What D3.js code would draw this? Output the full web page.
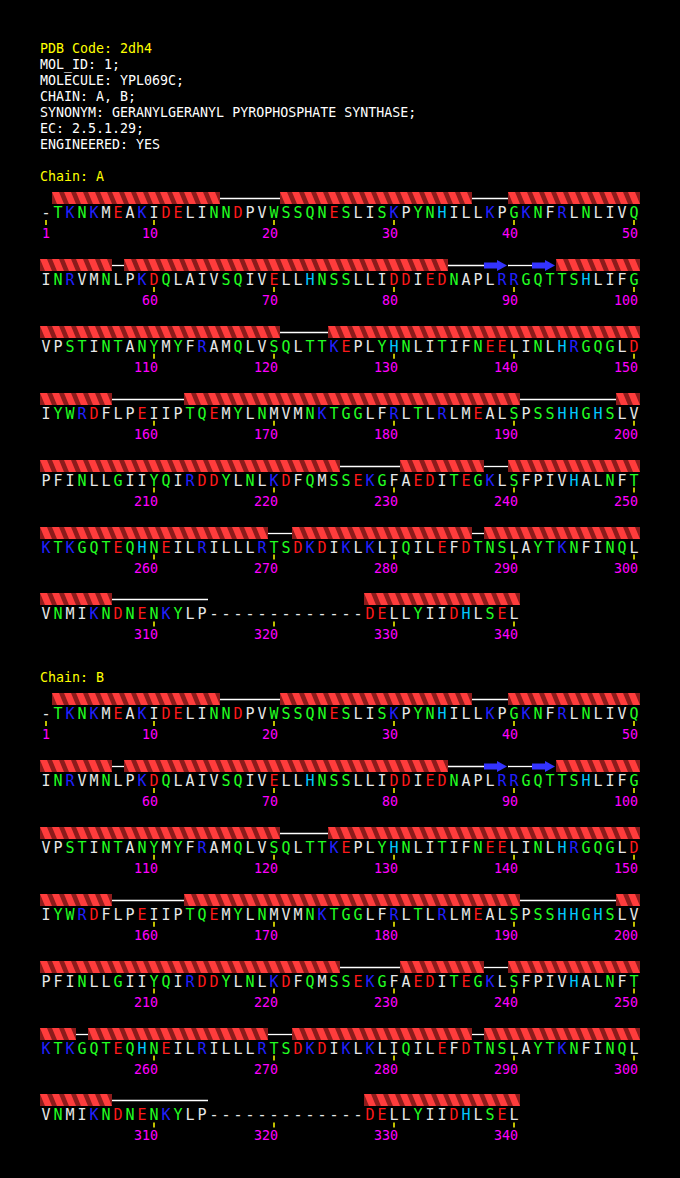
<!DOCTYPE html>
<html>
<head>
<meta charset="utf-8">
<script src="https://cdn.jsdelivr.net/npm/d3@7"></script>
<style>
  html, body { margin: 0; padding: 0; background: #000; }
  svg { display: block; }
</style>
</head>
<body>
<div id="chart"></div>
<script>
// ---------- DATA ----------
const headerTitle = "PDB Code: 2dh4";
const headerLines = [
  "MOL_ID: 1;",
  "MOLECULE: YPL069C;",
  "CHAIN: A, B;",
  "SYNONYM: GERANYLGERANYL PYROPHOSPHATE SYNTHASE;",
  "EC: 2.5.1.29;",
  "ENGINEERED: YES"
];
const chainNames = ["Chain: A", "Chain: B"];

const sequenceRows = [
  "-TKNKMEAKIDELINNDPVWSSQNESLISKPYNHILLKPGKNFRLNLIVQ",
  "INRVMNLPKDQLAIVSQIVELLHNSSLLIDDIEDNAPLRRGQTTSHLIFG",
  "VPSTINTANYMYFRAMQLVSQLTTKEPLYHNLITIFNEELINLHRGQGLD",
  "IYWRDFLPEIIPTQEMYLNMVMNKTGGLFRLTLRLMEALSPSSHHGHSLV",
  "PFINLLGIIYQIRDDYLNLKDFQMSSEKGFAEDITEGKLSFPIVHALNFT",
  "KTKGQTEQHNEILRILLLRTSDKDIKLKLIQILEFDTNSLAYTKNFINQL",
  "VNMIKNDNENKYLP-------------DELLYIIDHLSEL"
];

const chainAHelices = [[2,15],[21,36],[40,56],[58,84],[94,120],[125,156],[163,190],[199,225],[231,237],[240,269],[272,286],[288,306],[328,340]];
const chainAStrands = [[88,89],[92,93]];
const chainACoils   = [[16,20],[37,39],[57,57],[85,87],[90,91],[121,124],[157,162],[191,198],[226,230],[238,239],[270,271],[287,287],[307,314]];

const chainBHelices = [[2,15],[21,36],[40,56],[58,84],[94,120],[125,156],[163,190],[199,225],[231,237],[240,253],[255,269],[272,286],[288,306],[328,340]];
const chainBStrands = [[88,89],[92,93]];
const chainBCoils   = [[16,20],[37,39],[57,57],[85,87],[90,91],[121,124],[157,162],[191,198],[226,230],[238,239],[254,254],[270,271],[287,287],[307,314]];

const residueGroups = [
  { letters: "DE", color: "#ff1a1a" },
  { letters: "KR", color: "#2020ff" },
  { letters: "H", color: "#00c8ff" },
  { letters: "STNQGYWC", color: "#22ff22" },
  { letters: "AVLIMFP-", color: "#e8e8e8" }
];

// ---------- LAYOUT ----------
const W = 680, H = 1178;
const perRow = 50;
const rowStep = 66.9;
const chainOffset = 501;

const svg = d3.select("#chart").append("svg")
  .attr("width", W).attr("height", H)
  .style("background", "#000");
svg.append("rect").attr("width", W).attr("height", H).attr("fill", "#000");

const defs = svg.append("defs");

const x = d3.scaleBand().domain(d3.range(perRow)).range([40, 640]).paddingInner(0).paddingOuter(0);
const bw = x.bandwidth();
const rowY = d3.scaleLinear().domain([0, 1]).range([0, rowStep]);

const colorOf = ch => {
  const g = residueGroups.find(g => g.letters.includes(ch));
  return g ? g.color : "#e8e8e8";
};

const mono = "'DejaVu Sans Mono', 'Liberation Mono', monospace";

// header
const header = svg.append("g").attr("font-family", mono).attr("font-size", "13.3px");
header.append("text").attr("x", 40).attr("y", 53).attr("fill", "#ffff00").text(headerTitle);
header.selectAll("text.h").data(headerLines).join("text")
  .attr("class", "h").attr("x", 40).attr("y", (d, i) => 69 + i * 16)
  .attr("fill", "#ffffff").text(d => d);

const residues = sequenceRows.join("").split("");

let clipId = 0;
function segments(range) {
  const [s, e] = range;
  const out = [];
  const r0 = Math.floor((s - 1) / perRow), r1 = Math.floor((e - 1) / perRow);
  for (let r = r0; r <= r1; r++) {
    const a = Math.max(s, r * perRow + 1), b = Math.min(e, r * perRow + perRow);
    out.push({ row: r, a, b, x0: x((a - 1) % perRow), x1: x((b - 1) % perRow) + bw });
  }
  return out;
}

function drawChain(ci, helices, strands, coils) {
  const off = ci * chainOffset;
  const g = svg.append("g");
  g.append("text").attr("x", 40).attr("y", 181 + off)
    .attr("font-family", mono).attr("font-size", "13.3px")
    .attr("fill", "#ffff00").text(chainNames[ci]);

  const bandTop = r => Math.round(192 + off + rowY(r));

  // coils
  coils.flatMap(segments).forEach(sg => {
    const yc = bandTop(sg.row) + 6.5;
    g.append("line").attr("x1", sg.x0).attr("x2", sg.x1).attr("y1", yc).attr("y2", yc)
      .attr("stroke", "#ffffff").attr("stroke-width", 1.3);
  });

  // helices
  helices.flatMap(segments).forEach(sg => {
    const top = bandTop(sg.row), bot = top + 12;
    const id = "clip" + (clipId++);
    defs.append("clipPath").attr("id", id).append("rect")
      .attr("x", sg.x0).attr("y", top).attr("width", sg.x1 - sg.x0).attr("height", 12);
    const hg = g.append("g").attr("clip-path", `url(#${id})`);
    hg.append("rect").attr("x", sg.x0).attr("y", top).attr("width", sg.x1 - sg.x0).attr("height", 12)
      .attr("fill", "#8c1b1b");
    const cells = d3.range(sg.a, sg.b + 1).map(n => x((n - 1) % perRow));
    hg.selectAll("polygon").data(cells).join("polygon")
      .attr("points", xc => `${xc},${top} ${xc + 7},${top} ${xc + 12},${bot} ${xc + 5},${bot}`)
      .attr("fill", "#ff3c3c");
  });

  // strands
  strands.flatMap(segments).forEach(sg => {
    const yc = bandTop(sg.row) + 6.5;
    const x0 = sg.x0, x1 = sg.x1 - 1, hx = x1 - 10;
    g.append("polygon")
      .attr("points", `${x0},${yc - 3} ${hx},${yc - 3} ${hx},${yc - 5.5} ${x1},${yc} ${hx},${yc + 5.5} ${hx},${yc + 3} ${x0},${yc + 3}`)
      .attr("fill", "#3434ff");
  });

  // letters
  g.selectAll("text.res").data(residues.map((c, i) => ({ c, n: i + 1 }))).join("text")
    .attr("class", "res")
    .attr("x", d => x((d.n - 1) % perRow) + bw / 2)
    .attr("y", d => 218 + off + rowY(Math.floor((d.n - 1) / perRow)))
    .attr("text-anchor", "middle")
    .attr("font-family", mono).attr("font-size", "15px")
    .attr("fill", d => colorOf(d.c))
    .text(d => d.c);

  // ticks and numbers
  const marks = d3.range(1, residues.length + 1).filter(n => n === 1 || n % 10 === 0);
  g.selectAll("line.tick").data(marks).join("line")
    .attr("class", "tick")
    .attr("x1", n => x((n - 1) % perRow) + bw / 2)
    .attr("x2", n => x((n - 1) % perRow) + bw / 2)
    .attr("y1", n => 220 + off + rowY(Math.floor((n - 1) / perRow)))
    .attr("y2", n => 225 + off + rowY(Math.floor((n - 1) / perRow)))
    .attr("stroke", "#ffff00").attr("stroke-width", 1.5);
  g.selectAll("text.num").data(marks).join("text")
    .attr("class", "num")
    .attr("x", n => x((n - 1) % perRow) + bw / 2 + 4)
    .attr("y", n => 238 + off + rowY(Math.floor((n - 1) / perRow)))
    .attr("text-anchor", "end")
    .attr("font-family", mono).attr("font-size", "13.3px")
    .attr("fill", "#ff00ff")
    .text(n => n);
}

drawChain(0, chainAHelices, chainAStrands, chainACoils);
drawChain(1, chainBHelices, chainBStrands, chainBCoils);
</script>
</body>
</html>
